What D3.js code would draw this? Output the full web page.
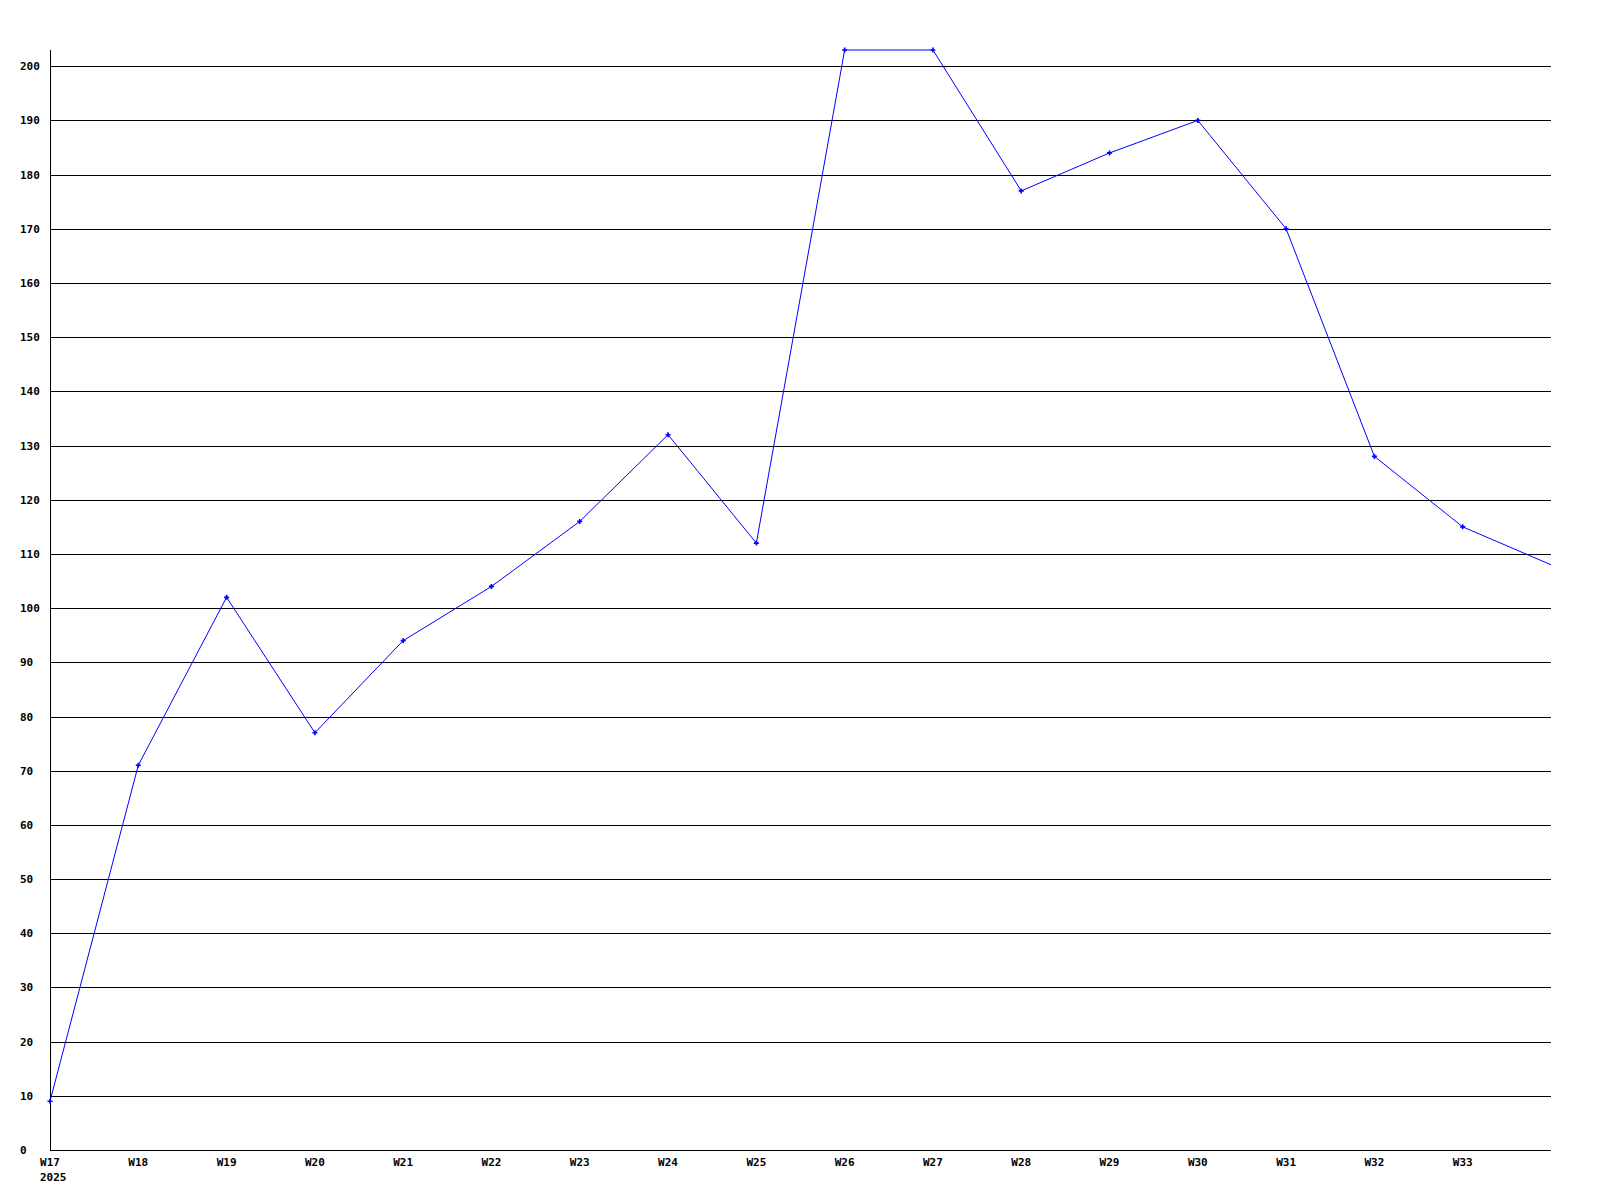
<!DOCTYPE html>
<html><head><meta charset="utf-8">
<script src="https://cdn.jsdelivr.net/npm/d3@7"></script>
<style>html,body{margin:0;padding:0;background:#fff;}svg{display:block;}</style>
</head><body>
<svg id="c" width="1600" height="1200"></svg>
<script>
const weeks = ["W17","W18","W19","W20","W21","W22","W23","W24","W25","W26","W27","W28","W29","W30","W31","W32","W33","W34"];
const values = [9,71,102,77,94,104,116,132,112,203,203,177,184,190,170,128,115,108];
const yTicks = d3.range(0, 201, 10);
const xTickLabels = ["W17","W18","W19","W20","W21","W22","W23","W24","W25","W26","W27","W28","W29","W30","W31","W32","W33"];
const yearLabel = "2025";

const svg = d3.select("#c");
const x = d3.scaleLinear().domain([0, weeks.length - 1]).range([50, 1551]);
const y = d3.scaleLinear().domain([0, 203]).range([1150, 50]);
const font = "'DejaVu Sans Mono', monospace";

// gridlines
svg.append("g").selectAll("line").data(yTicks).join("line")
  .attr("x1", 50).attr("x2", 1551)
  .attr("y1", d => Math.round(y(d)) + 0.5).attr("y2", d => Math.round(y(d)) + 0.5)
  .attr("stroke", "#000").attr("stroke-width", 1).attr("shape-rendering", "crispEdges");

// y axis line
svg.append("line").attr("x1", 50.5).attr("x2", 50.5).attr("y1", y(203)).attr("y2", y(0) + 1)
  .attr("stroke", "#000").attr("shape-rendering", "crispEdges");

// y labels
svg.append("g").selectAll("text").data(yTicks).join("text")
  .attr("x", 20).attr("y", d => Math.round(y(d)) + 4)
  .attr("font-family", font).attr("font-weight", "bold").attr("font-size", 11)
  .text(d => d);

// x labels
svg.append("g").selectAll("text").data(xTickLabels).join("text")
  .attr("x", (d, i) => x(i)).attr("y", 1166)
  .attr("text-anchor", "middle")
  .attr("font-family", font).attr("font-weight", "bold").attr("font-size", 11)
  .text(d => d);
svg.append("text").attr("x", x(0) - 10).attr("y", 1181).attr("text-anchor", "start")
  .attr("font-family", font).attr("font-weight", "bold").attr("font-size", 11)
  .text(yearLabel);

// line
const line = d3.line().x((d, i) => x(i)).y(d => y(d));
svg.append("path").datum(values).attr("d", line)
  .attr("fill", "none").attr("stroke", "#0000ff").attr("stroke-width", 1);

// markers
svg.append("g").selectAll("path").data(values.slice(0, values.length - 1)).join("path")
  .attr("transform", (d, i) => `translate(${x(i)},${y(d)})`)
  .attr("d", d3.symbol().type(d3.symbolCross).size(14))
  .attr("fill", "#0000ff");
</script>
</body></html>
